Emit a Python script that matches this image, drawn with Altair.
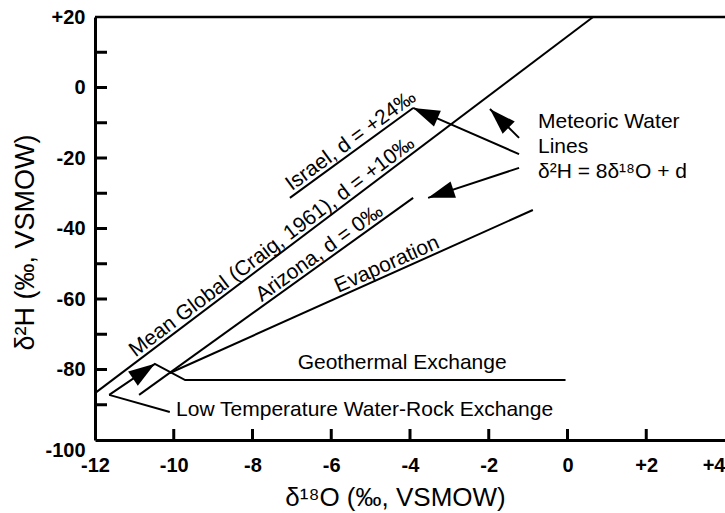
import math
import altair as alt
import pandas as pd

FONT = "Liberation Sans, Arial, Helvetica, sans-serif"
W, H = 630, 423
X_DOMAIN = [-12, 4]
Y_DOMAIN = [-100, 20]

# axis values
x_label_values = [-12, -10, -8, -6, -4, -2, 0, 2, 4]
y_label_values = [-100, -80, -60, -40, -20, 0, 20]
x_tick_values = [-10, -8, -6, -4, -2, 0, 2]
y_tick_values = [-90, -80, -70, -60, -50, -40, -30, -20, -10, 0, 10]
top_frame_value = [20]

# line series (d18O, d2H)
mean_global_x = [-12.0, 0.65]
mean_global_y = [-86.7, 20.0]
israel_x = [-7.05, -3.92]
israel_y = [-31.3, -5.8]
arizona_x = [-10.88, -3.92]
arizona_y = [-87.2, -31.3]
evap_x = [-10.1, -0.88]
evap_y = [-81.0, -34.75]
geo_x = [-11.64, -10.48, -9.71, -0.05]
geo_y = [-87.2, -78.4, -83.0, -83.0]
lowt_x = [-11.64, -10.1]
lowt_y = [-87.2, -92.06]
arrow1_x = [-1.23, -1.97]
arrow1_y = [-14.3, -6.1]
arrow2_x = [-1.23, -3.92]
arrow2_y = [-18.9, -5.8]
arrow3_x = [-1.23, -3.54]
arrow3_y = [-22.8, -31.3]

# labels along lines
rot_texts = ["Mean Global (Craig, 1961), d = +10\u2030", "Israel, d = +24\u2030",
             "Arizona, d = 0\u2030", "Evaporation"]
rot_x = [-7.35, -5.35, -6.15, -4.48]
rot_y = [-47.5, -17.4, -49.3, -52.85]
rot_ref = [(mean_global_x, mean_global_y), (israel_x, israel_y),
           (arizona_x, arizona_y), (evap_x, evap_y)]

center_texts = ["Geothermal Exchange"]
center_x = [-4.2]
center_y = [-79.9]

left_texts = ["Low Temperature Water-Rock Exchange", "Meteoric Water", "Lines",
              "\u03b4\u00b2H = 8\u03b4\u00b9\u2078O + d"]
left_x = [-9.94, -0.75, -0.75, -0.75]
left_y = [-93.2, -11.5, -18.6, -25.7]

PX_X = W / (X_DOMAIN[1] - X_DOMAIN[0])
PX_Y = H / (Y_DOMAIN[1] - Y_DOMAIN[0])


def screen_angle(x0, y0, x1, y1):
    a = math.degrees(math.atan2(-(y1 - y0) * PX_Y, (x1 - x0) * PX_X))
    return a % 360


lines = {
    "mean": (mean_global_x, mean_global_y),
    "israel": (israel_x, israel_y),
    "arizona": (arizona_x, arizona_y),
    "evap": (evap_x, evap_y),
    "geo": (geo_x, geo_y),
    "lowt": (lowt_x, lowt_y),
    "a1": (arrow1_x, arrow1_y),
    "a2": (arrow2_x, arrow2_y),
    "a3": (arrow3_x, arrow3_y),
}
rows = []
for name, (xs_, ys_) in lines.items():
    for i, (xv, yv) in enumerate(zip(xs_, ys_)):
        rows.append(dict(series=name, order=i, x=xv, y=yv))
line_df = pd.DataFrame(rows)

# arrowheads: at tips of arrows, pointing along the last segment
head_rows = []
for name in ["a1", "a2", "a3"]:
    xs_, ys_ = lines[name]
    head_rows.append(dict(x=xs_[-1], y=ys_[-1],
                          angle=screen_angle(xs_[-2], ys_[-2], xs_[-1], ys_[-1])))
head_rows.append(dict(x=geo_x[1], y=geo_y[1],
                      angle=screen_angle(geo_x[0], geo_y[0], geo_x[1], geo_y[1])))
head_df = pd.DataFrame(head_rows)

rot_df = pd.DataFrame(dict(
    text=rot_texts, x=rot_x, y=rot_y,
    angle=[screen_angle(r[0][0], r[1][0], r[0][-1], r[1][-1]) for r in rot_ref]))
center_df = pd.DataFrame(dict(text=center_texts, x=center_x, y=center_y))
left_df = pd.DataFrame(dict(text=left_texts, x=left_x, y=left_y))
ytick_df = pd.DataFrame({"y": y_tick_values})
xtick_df = pd.DataFrame({"x": x_tick_values})
top_df = pd.DataFrame({"y": top_frame_value})

xscale = alt.Scale(domain=X_DOMAIN, nice=False, zero=False)
yscale = alt.Scale(domain=Y_DOMAIN, nice=False, zero=False)

label_expr = "datum.value > 0 ? '+' + datum.value : '' + datum.value"

x_axis = alt.Axis(
    values=x_label_values, labelExpr=label_expr, title="\u03b4\u00b9\u2078O (\u2030, VSMOW)",
    ticks=False, tickSize=0, grid=False, domainWidth=3, domainColor="black",
    labelFont=FONT, labelFontSize=20, labelFontWeight="bold", labelColor="black",
    labelPadding=15, labelFlush=False, labelOverlap=False,
    labelAlign={"condition": {"test": "datum.value === 4", "value": "right"},
                "value": "center"},
    titleFont=FONT, titleFontSize=26, titleFontWeight="normal", titleColor="black",
    titleX=300, titleY=65, titleBaseline="alphabetic", titleAlign="center",
)
y_axis = alt.Axis(
    values=y_label_values, labelExpr=label_expr, title="\u03b4\u00b2H (\u2030, VSMOW)",
    ticks=False, tickSize=0, grid=False, domainWidth=3, domainColor="black",
    labelFont=FONT, labelFontSize=20, labelFontWeight="bold", labelColor="black",
    labelPadding=10, labelFlush=False, labelOverlap=False,
    labelBaseline={"condition": {"test": "datum.value === -100", "value": "top"},
                   "value": "middle"},
    titleFont=FONT, titleFontSize=27, titleFontWeight="normal", titleColor="black",
    titleAngle=270, titleX=-62, titleY=225, titleBaseline="alphabetic", titleAlign="center",
)

X = alt.X("x:Q", scale=xscale, axis=x_axis)
Y = alt.Y("y:Q", scale=yscale, axis=y_axis)

base_lines = alt.Chart(line_df).mark_line(color="black", strokeWidth=2).encode(
    x=X, y=Y, detail="series:N", order="order:Q",
)

heads = alt.Chart(head_df).mark_point(
    shape="M0,0L-2,-0.65L-2,0.65Z", filled=True, color="black", opacity=1, size=700,
    strokeWidth=0,
).encode(x=X, y=Y, angle=alt.Angle("angle:Q", scale=None))

top_frame = alt.Chart(top_df).mark_rule(color="black", strokeWidth=2.5).encode(y=Y)

y_ticks = alt.Chart(ytick_df).mark_rule(color="black", strokeWidth=3).encode(
    y=Y, x=alt.value(0), x2=alt.value(12))

x_ticks = alt.Chart(xtick_df).mark_rule(color="black", strokeWidth=3).encode(
    x=X, y=alt.value(H), y2=alt.value(H - 11))

rot_text = alt.Chart(rot_df).mark_text(
    font=FONT, fontSize=21, color="black", align="center", baseline="alphabetic", dy=-4,
).encode(x=X, y=Y, text="text:N", angle=alt.Angle("angle:Q", scale=None))

center_text = alt.Chart(center_df).mark_text(
    font=FONT, fontSize=21, color="black", align="center", baseline="alphabetic",
).encode(x=X, y=Y, text="text:N")

left_text = alt.Chart(left_df).mark_text(
    font=FONT, fontSize=21, color="black", align="left", baseline="alphabetic",
).encode(x=X, y=Y, text="text:N")

chart = alt.layer(
    base_lines, top_frame, y_ticks, x_ticks, heads, rot_text, center_text, left_text
).properties(
    width=W, height=H,
    autosize=alt.AutoSizeParams(type="none"),
    padding={"left": 95, "top": 17, "right": 0, "bottom": 73},
    background="white",
).configure_view(stroke=None)

chart.save("out.html", embed_options={"renderer": "svg", "actions": False})
